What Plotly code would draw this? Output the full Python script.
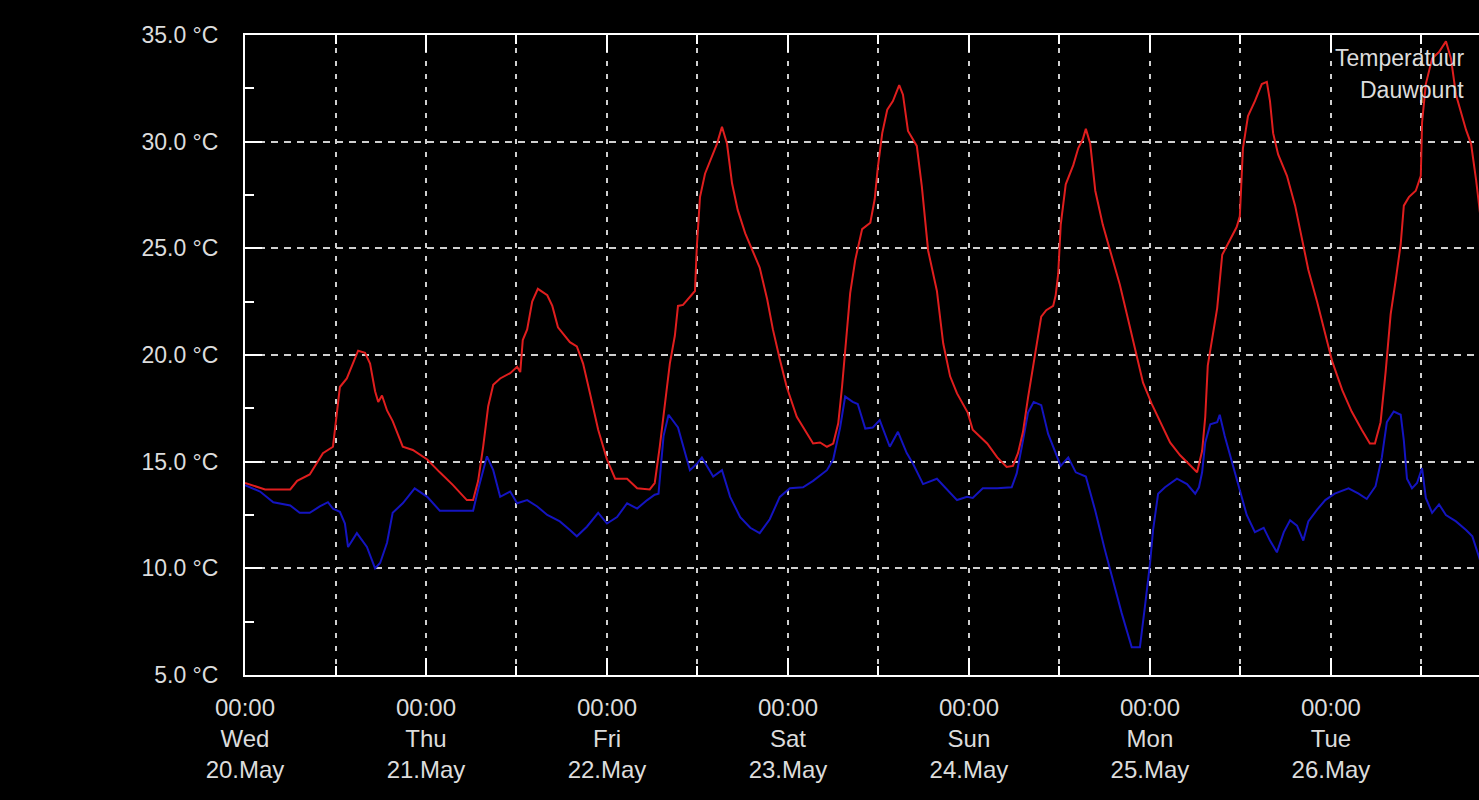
import plotly.graph_objects as go

series_names = ["Temperatuur", "Dauwpunt"]

temp_time = [
    "2020-05-20 00:00", "2020-05-20 02:40", "2020-05-20 06:00", "2020-05-20 06:55", "2020-05-20 08:35",
    "2020-05-20 09:35", "2020-05-20 10:20", "2020-05-20 11:40", "2020-05-20 12:10", "2020-05-20 12:35",
    "2020-05-20 13:30", "2020-05-20 14:20", "2020-05-20 15:00", "2020-05-20 15:55", "2020-05-20 16:35",
    "2020-05-20 17:15", "2020-05-20 17:40", "2020-05-20 18:10", "2020-05-20 18:50", "2020-05-20 19:35",
    "2020-05-20 20:55", "2020-05-20 22:15", "2020-05-21 00:10", "2020-05-21 01:50", "2020-05-21 03:35",
    "2020-05-21 05:25", "2020-05-21 06:15", "2020-05-21 06:55", "2020-05-21 07:35", "2020-05-21 08:15",
    "2020-05-21 08:55", "2020-05-21 09:50", "2020-05-21 11:10", "2020-05-21 12:05", "2020-05-21 12:30",
    "2020-05-21 12:50", "2020-05-21 13:25", "2020-05-21 14:05", "2020-05-21 14:50", "2020-05-21 16:05",
    "2020-05-21 16:45", "2020-05-21 17:30", "2020-05-21 19:05", "2020-05-21 20:00", "2020-05-21 20:50",
    "2020-05-21 21:45", "2020-05-21 22:50", "2020-05-22 00:00", "2020-05-22 01:05", "2020-05-22 02:40",
    "2020-05-22 04:00", "2020-05-22 05:40", "2020-05-22 06:20", "2020-05-22 07:00", "2020-05-22 07:40",
    "2020-05-22 08:20", "2020-05-22 09:00", "2020-05-22 09:25", "2020-05-22 10:05", "2020-05-22 11:15",
    "2020-05-22 11:40", "2020-05-22 11:55", "2020-05-22 12:20", "2020-05-22 13:00", "2020-05-22 13:55",
    "2020-05-22 14:35", "2020-05-22 15:15", "2020-05-22 15:55", "2020-05-22 16:35", "2020-05-22 17:20",
    "2020-05-22 18:20", "2020-05-22 19:20", "2020-05-22 20:15", "2020-05-22 21:15", "2020-05-22 22:00",
    "2020-05-22 22:55", "2020-05-22 23:50", "2020-05-23 01:10", "2020-05-23 02:30", "2020-05-23 03:20",
    "2020-05-23 04:15", "2020-05-23 05:10", "2020-05-23 06:00", "2020-05-23 06:40", "2020-05-23 07:10",
    "2020-05-23 07:35", "2020-05-23 08:15", "2020-05-23 08:55", "2020-05-23 09:50", "2020-05-23 10:55",
    "2020-05-23 11:30", "2020-05-23 11:55", "2020-05-23 12:30", "2020-05-23 13:10", "2020-05-23 13:55",
    "2020-05-23 14:45", "2020-05-23 15:15", "2020-05-23 15:55", "2020-05-23 17:05", "2020-05-23 17:45",
    "2020-05-23 18:35", "2020-05-23 19:45", "2020-05-23 20:35", "2020-05-23 21:30", "2020-05-23 22:25",
    "2020-05-23 23:50", "2020-05-24 00:30", "2020-05-24 02:25", "2020-05-24 03:45", "2020-05-24 05:00",
    "2020-05-24 05:50", "2020-05-24 06:30", "2020-05-24 07:10", "2020-05-24 07:50", "2020-05-24 08:30",
    "2020-05-24 08:55", "2020-05-24 09:35", "2020-05-24 10:15", "2020-05-24 11:10", "2020-05-24 11:30",
    "2020-05-24 11:50", "2020-05-24 12:10", "2020-05-24 12:50", "2020-05-24 13:50", "2020-05-24 14:30",
    "2020-05-24 15:05", "2020-05-24 15:30", "2020-05-24 16:05", "2020-05-24 16:45", "2020-05-24 17:45",
    "2020-05-24 18:55", "2020-05-24 20:00", "2020-05-24 21:05", "2020-05-24 22:15", "2020-05-24 23:05",
    "2020-05-25 00:15", "2020-05-25 01:20", "2020-05-25 02:40", "2020-05-25 04:00", "2020-05-25 05:20",
    "2020-05-25 06:15", "2020-05-25 06:55", "2020-05-25 07:20", "2020-05-25 07:40", "2020-05-25 08:30",
    "2020-05-25 08:55", "2020-05-25 09:35", "2020-05-25 10:20", "2020-05-25 11:30", "2020-05-25 11:55",
    "2020-05-25 12:20", "2020-05-25 13:00", "2020-05-25 13:55", "2020-05-25 14:50", "2020-05-25 15:30",
    "2020-05-25 15:55", "2020-05-25 16:20", "2020-05-25 17:00", "2020-05-25 18:10", "2020-05-25 19:15",
    "2020-05-25 20:10", "2020-05-25 21:00", "2020-05-25 22:10", "2020-05-25 23:15", "2020-05-26 00:10",
    "2020-05-26 01:30", "2020-05-26 02:45", "2020-05-26 04:05", "2020-05-26 05:10", "2020-05-26 05:50",
    "2020-05-26 06:35", "2020-05-26 07:15", "2020-05-26 07:55", "2020-05-26 08:35", "2020-05-26 09:15",
    "2020-05-26 09:40", "2020-05-26 10:20", "2020-05-26 11:15", "2020-05-26 11:55", "2020-05-26 12:05",
    "2020-05-26 12:35", "2020-05-26 13:25", "2020-05-26 14:20", "2020-05-26 15:15", "2020-05-26 15:55",
    "2020-05-26 16:35", "2020-05-26 17:55", "2020-05-26 18:35", "2020-05-26 19:15", "2020-05-26 19:55",
]
temp_vals = [
    14.0, 13.7, 13.7, 14.1, 14.4, 15.0, 15.4, 15.7, 17.4, 18.5,
    18.9, 19.6, 20.2, 20.1, 19.6, 18.3, 17.8, 18.1, 17.4, 16.9,
    15.7, 15.55, 15.1, 14.5, 13.9, 13.2, 13.2, 14.1, 15.7, 17.6,
    18.6, 18.9, 19.15, 19.45, 19.2, 20.7, 21.2, 22.5, 23.1, 22.8,
    22.3, 21.3, 20.6, 20.4, 19.6, 18.2, 16.5, 15.1, 14.2, 14.2,
    13.75, 13.7, 14.0, 15.7, 17.75, 19.6, 20.9, 22.3, 22.35, 22.8,
    23.0, 25.1, 27.4, 28.5, 29.3, 29.9, 30.7, 29.9, 28.05, 26.8,
    25.7, 24.9, 24.1, 22.6, 21.2, 19.8, 18.5, 17.1, 16.3, 15.85,
    15.9, 15.7, 15.85, 16.8, 18.5, 20.3, 22.9, 24.45, 25.9, 26.2,
    27.3, 28.8, 30.4, 31.5, 31.9, 32.65, 32.2, 30.5, 29.8, 27.9,
    24.9, 23.0, 20.55, 19.0, 18.2, 17.3, 16.5, 15.85, 15.2, 14.75,
    14.8, 15.4, 16.4, 18.0, 19.4, 20.2, 21.8, 22.1, 22.3, 22.8,
    23.8, 26.1, 28.0, 28.9, 29.7, 30.1, 30.6, 29.9, 27.7, 26.1,
    24.6, 23.3, 21.7, 20.0, 18.7, 17.7, 16.9, 15.9, 15.3, 14.8,
    14.5, 15.5, 17.1, 19.5, 21.2, 22.2, 24.7, 25.2, 26.0, 26.5,
    29.7, 31.2, 31.9, 32.7, 32.8, 31.9, 30.4, 29.4, 28.4, 27.0,
    25.5, 24.0, 22.5, 21.0, 19.7, 18.35, 17.35, 16.5, 15.85, 15.85,
    16.85, 19.2, 21.9, 23.5, 25.2, 27.0, 27.4, 27.7, 28.4, 30.9,
    32.7, 33.9, 34.2, 34.7, 33.9, 32.2, 30.55, 29.9, 28.2, 26.2,
]

dew_time = [
    "2020-05-20 00:00", "2020-05-20 02:00", "2020-05-20 03:45", "2020-05-20 06:00", "2020-05-20 07:15",
    "2020-05-20 08:35", "2020-05-20 09:55", "2020-05-20 11:00", "2020-05-20 11:40", "2020-05-20 12:35",
    "2020-05-20 13:15", "2020-05-20 13:40", "2020-05-20 14:50", "2020-05-20 16:10", "2020-05-20 17:15",
    "2020-05-20 17:55", "2020-05-20 18:50", "2020-05-20 19:35", "2020-05-20 20:55", "2020-05-20 22:30",
    "2020-05-21 00:10", "2020-05-21 01:50", "2020-05-21 04:05", "2020-05-21 06:15", "2020-05-21 06:55",
    "2020-05-21 08:05", "2020-05-21 08:55", "2020-05-21 09:50", "2020-05-21 11:10", "2020-05-21 12:05",
    "2020-05-21 13:25", "2020-05-21 14:45", "2020-05-21 16:05", "2020-05-21 17:45", "2020-05-21 19:05",
    "2020-05-21 20:00", "2020-05-21 21:20", "2020-05-21 22:50", "2020-05-22 00:00", "2020-05-22 01:20",
    "2020-05-22 02:40", "2020-05-22 04:00", "2020-05-22 05:20", "2020-05-22 06:20", "2020-05-22 06:50",
    "2020-05-22 07:30", "2020-05-22 08:10", "2020-05-22 09:25", "2020-05-22 11:00", "2020-05-22 11:55",
    "2020-05-22 12:35", "2020-05-22 14:05", "2020-05-22 15:15", "2020-05-22 16:20", "2020-05-22 17:40",
    "2020-05-22 19:00", "2020-05-22 20:15", "2020-05-22 21:35", "2020-05-22 22:55", "2020-05-23 00:15",
    "2020-05-23 02:00", "2020-05-23 03:20", "2020-05-23 05:10", "2020-05-23 06:00", "2020-05-23 06:55",
    "2020-05-23 07:35", "2020-05-23 08:35", "2020-05-23 09:15", "2020-05-23 10:15", "2020-05-23 11:15",
    "2020-05-23 12:10", "2020-05-23 13:30", "2020-05-23 14:35", "2020-05-23 15:45", "2020-05-23 16:35",
    "2020-05-23 17:55", "2020-05-23 19:45", "2020-05-23 21:05", "2020-05-23 22:25", "2020-05-23 23:45",
    "2020-05-24 00:30", "2020-05-24 01:50", "2020-05-24 03:45", "2020-05-24 05:40", "2020-05-24 06:20",
    "2020-05-24 07:10", "2020-05-24 07:50", "2020-05-24 08:35", "2020-05-24 09:35", "2020-05-24 10:30",
    "2020-05-24 11:30", "2020-05-24 12:10", "2020-05-24 13:10", "2020-05-24 14:10", "2020-05-24 15:30",
    "2020-05-24 16:45", "2020-05-24 18:00", "2020-05-24 19:05", "2020-05-24 20:15", "2020-05-24 21:35",
    "2020-05-24 22:40", "2020-05-24 23:20", "2020-05-25 00:00", "2020-05-25 00:25", "2020-05-25 01:05",
    "2020-05-25 02:00", "2020-05-25 03:35", "2020-05-25 04:55", "2020-05-25 06:00", "2020-05-25 06:30",
    "2020-05-25 06:55", "2020-05-25 07:20", "2020-05-25 08:00", "2020-05-25 08:55", "2020-05-25 09:15",
    "2020-05-25 09:55", "2020-05-25 10:50", "2020-05-25 11:55", "2020-05-25 12:50", "2020-05-25 13:55",
    "2020-05-25 15:05", "2020-05-25 15:55", "2020-05-25 16:50", "2020-05-25 17:45", "2020-05-25 18:35",
    "2020-05-25 19:30", "2020-05-25 20:20", "2020-05-25 21:00", "2020-05-25 22:10", "2020-05-25 23:15",
    "2020-05-26 00:30", "2020-05-26 02:20", "2020-05-26 03:40", "2020-05-26 04:45", "2020-05-26 05:55",
    "2020-05-26 06:45", "2020-05-26 07:25", "2020-05-26 08:20", "2020-05-26 09:15", "2020-05-26 09:40",
    "2020-05-26 10:05", "2020-05-26 10:45", "2020-05-26 11:25", "2020-05-26 12:05", "2020-05-26 12:35",
    "2020-05-26 13:25", "2020-05-26 14:20", "2020-05-26 15:15", "2020-05-26 16:35", "2020-05-26 17:55",
    "2020-05-26 18:45", "2020-05-26 19:40", "2020-05-26 19:55",
]
dew_vals = [
    13.9, 13.6, 13.1, 12.95, 12.6, 12.6, 12.9, 13.1, 12.8, 12.65,
    12.1, 11.0, 11.65, 11.0, 10.0, 10.25, 11.2, 12.6, 13.05, 13.75,
    13.35, 12.7, 12.7, 12.7, 13.7, 15.25, 14.6, 13.35, 13.6, 13.05,
    13.2, 12.9, 12.5, 12.2, 11.8, 11.5, 11.95, 12.6, 12.1, 12.4,
    13.05, 12.8, 13.2, 13.45, 13.5, 16.2, 17.2, 16.6, 14.6, 14.9,
    15.2, 14.3, 14.6, 13.35, 12.4, 11.9, 11.65, 12.3, 13.35, 13.75,
    13.8, 14.1, 14.6, 15.1, 16.6, 18.05, 17.8, 17.7, 16.55, 16.6,
    16.95, 15.7, 16.4, 15.4, 14.9, 13.95, 14.2, 13.7, 13.2, 13.35,
    13.3, 13.75, 13.75, 13.8, 14.45, 16.0, 17.3, 17.8, 17.65, 16.3,
    15.4, 14.8, 15.2, 14.5, 14.3, 12.7, 10.9, 9.4, 7.9, 6.3,
    6.3, 8.2, 10.2, 11.8, 13.5, 13.8, 14.2, 13.95, 13.5, 13.8,
    14.5, 15.9, 16.75, 16.85, 17.2, 16.2, 15.0, 13.7, 12.5, 11.7,
    11.9, 11.3, 10.75, 11.7, 12.25, 12.0, 11.3, 12.2, 12.75, 13.2,
    13.5, 13.75, 13.5, 13.25, 13.85, 15.2, 16.85, 17.35, 17.2, 16.0,
    14.2, 13.75, 14.0, 14.7, 13.3, 12.6, 13.0, 12.5, 12.2, 11.8,
    11.5, 10.5, 10.2,
]

y_tick_vals = [5, 10, 15, 20, 25, 30, 35]
y_tick_text = ["5.0 °C", "10.0 °C", "15.0 °C", "20.0 °C", "25.0 °C", "30.0 °C", "35.0 °C"]

x_start = "2020-05-20 00:00"
x_end = "2020-05-26 19:38"

TEXT = "#dcdcdc"
GRID = "#cfcfcf"
FONT = "Liberation Sans, Arial, sans-serif"

fig = go.Figure()
fig.add_trace(go.Scatter(x=dew_time, y=dew_vals, mode="lines", name=series_names[1],
                         line=dict(color="#1414c0", width=2)))
fig.add_trace(go.Scatter(x=temp_time, y=temp_vals, mode="lines", name=series_names[0],
                         line=dict(color="#e01e1e", width=2)))

fig.update_layout(
    width=1479, height=800,
    margin=dict(l=245, r=0, t=35, b=125),
    paper_bgcolor="#000000", plot_bgcolor="#000000",
    showlegend=False,
    font=dict(family=FONT, size=23, color=TEXT),
)

fig.update_xaxes(
    type="date", range=[x_start, x_end],
    tickmode="linear", tick0="2020-05-20", dtick=86400000,
    tickformat="%H:%M<br>%a<br>%d.%b",
    ticks="inside", ticklen=17, tickwidth=2, tickcolor="#ffffff",
    showline=True, linecolor="#ffffff", linewidth=2, mirror="ticks",
    showgrid=True, gridcolor=GRID, gridwidth=2, griddash="5px,8px",
    minor=dict(dtick=43200000, tick0="2020-05-20", ticks="inside", ticklen=9,
               tickwidth=2, tickcolor="#ffffff",
               showgrid=True, gridcolor=GRID, gridwidth=2, griddash="5px,8px"),
    ticklabelstandoff=10,
    tickfont=dict(family=FONT, size=24, color=TEXT),
    zeroline=False,
)

fig.update_yaxes(
    range=[5, 35],
    tickmode="array", tickvals=y_tick_vals, ticktext=y_tick_text,
    ticks="inside", ticklen=17, tickwidth=2, tickcolor="#ffffff",
    showline=True, linecolor="#ffffff", linewidth=2, mirror=False,
    showgrid=True, gridcolor=GRID, gridwidth=2, griddash="7px,6px",
    minor=dict(tickmode="linear", tick0=2.5, dtick=5, ticks="inside", ticklen=9,
               tickwidth=2, tickcolor="#ffffff", showgrid=False),
    ticklabelstandoff=20,
    tickfont=dict(family=FONT, size=23, color=TEXT),
    zeroline=False,
)

for i, name in enumerate(series_names):
    fig.add_annotation(xref="paper", yref="paper", x=1, y=1, xanchor="right", yanchor="middle",
                       xshift=-13, yshift=-23 - 32 * i, text=name, showarrow=False,
                       font=dict(family=FONT, size=23, color=TEXT))

fig.write_html("out.html", config={"displayModeBar": False},
               post_script="document.body.style.margin='0px';")
